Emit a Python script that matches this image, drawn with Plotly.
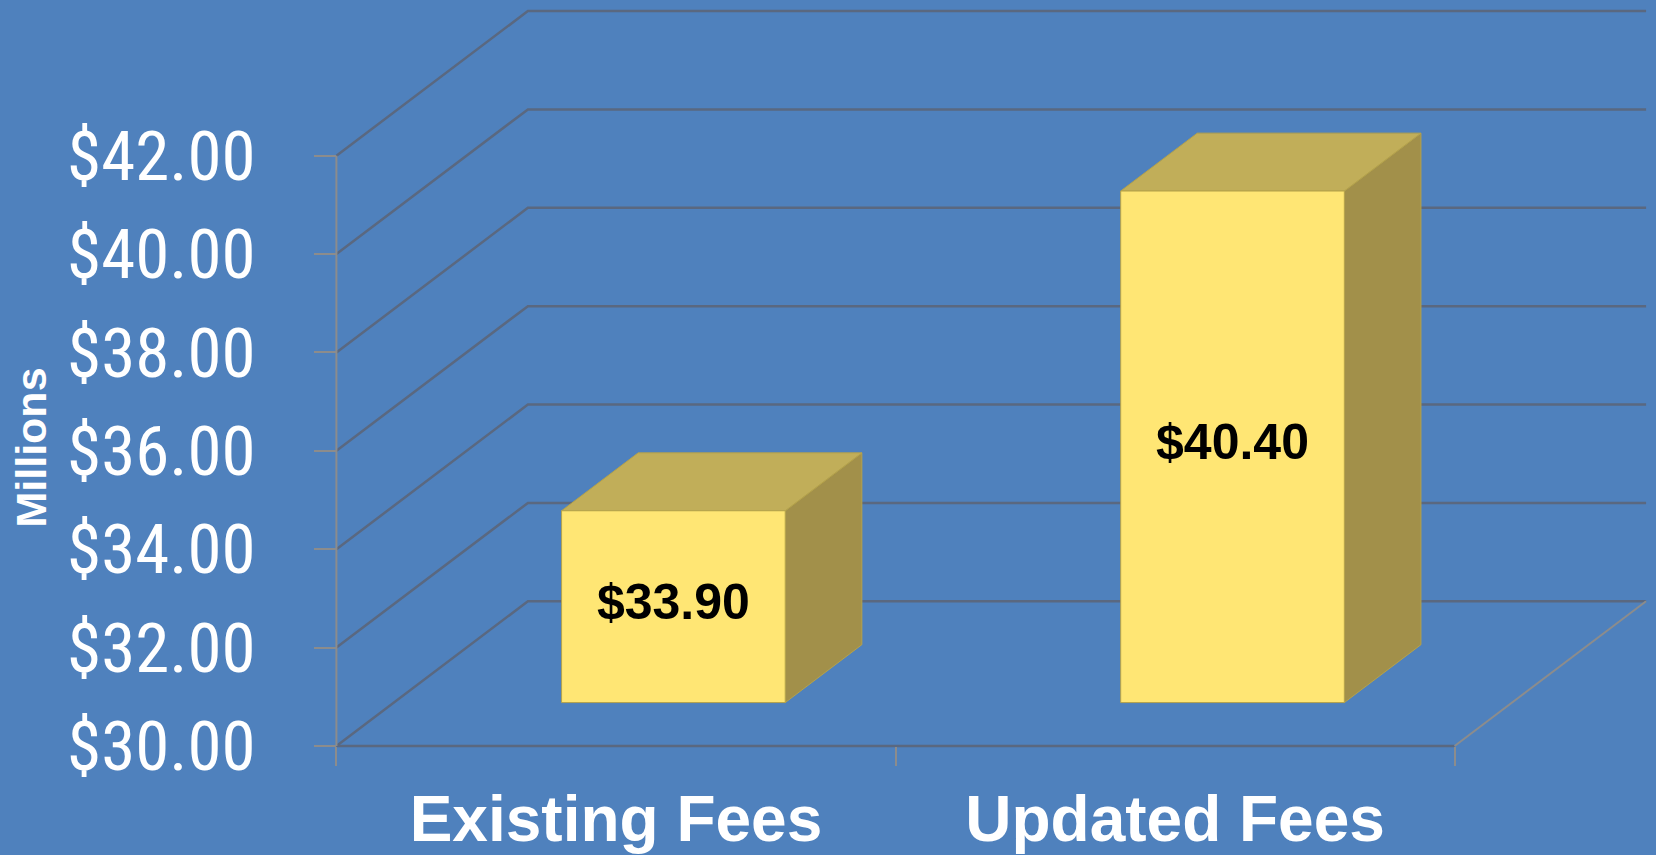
import plotly.graph_objects as go

# ---------------- data ----------------
categories = ["Existing Fees", "Updated Fees"]
values = [33.90, 40.40]          # $ millions
y_ticks = [30, 32, 34, 36, 38, 40, 42]
y_ticktext = ["$30.00", "$32.00", "$34.00", "$36.00", "$38.00", "$40.00", "$42.00"]
y_title = "Millions"

# ---------------- 3-D look (styling constants) ----------------
BASE = 30.0          # floor value
DEPTH_X = 0.3425     # horizontal offset of back wall (x units)
DEPTH_Y = 2.942      # vertical offset of back wall (y units)
BAR_HALF = 0.2       # half bar width (category units)
F_FRONT, F_BACK = 0.30, 0.70   # bar depth placement (fraction of full depth)

BG = "#4F81BD"
GRID = "#5a6880"
AXIS = "#8c8c8c"
FRONT = "#FFE674"
TOP = "#C1AE59"
SIDE = "#A2904A"
EDGE = "#B5A24A"

x_left, x_right = -0.5, len(categories) - 0.5

fig = go.Figure()

# back-wall gridlines with their left-wall diagonals
gx, gy = [], []
for v in y_ticks:
    gx += [x_left, x_left + DEPTH_X, x_right + DEPTH_X, None]
    gy += [v, v + DEPTH_Y, v + DEPTH_Y, None]
fig.add_trace(go.Scatter(x=gx, y=gy, mode="lines",
                         line=dict(color=GRID, width=2.5), hoverinfo="skip", showlegend=False))

# floor front edge + right floor edge
fig.add_trace(go.Scatter(x=[x_left, x_right], y=[BASE, BASE], mode="lines",
                         line=dict(color=GRID, width=2.5), hoverinfo="skip", showlegend=False))
fig.add_trace(go.Scatter(x=[x_right, x_right + DEPTH_X], y=[BASE, BASE + DEPTH_Y], mode="lines",
                         line=dict(color=AXIS, width=2), hoverinfo="skip", showlegend=False))
# value axis line
fig.add_trace(go.Scatter(x=[x_left, x_left], y=[BASE, y_ticks[-1]], mode="lines",
                         line=dict(color=AXIS, width=2), hoverinfo="skip", showlegend=False))

# bars
fdx, fdy = F_FRONT * DEPTH_X, F_FRONT * DEPTH_Y
bdx, bdy = (F_BACK - F_FRONT) * DEPTH_X, (F_BACK - F_FRONT) * DEPTH_Y
for i, v in enumerate(values):
    x0, x1 = i - BAR_HALF + fdx, i + BAR_HALF + fdx
    y0, y1 = BASE + fdy, v + fdy
    # side face
    fig.add_trace(go.Scatter(x=[x1, x1 + bdx, x1 + bdx, x1, x1],
                             y=[y0, y0 + bdy, y1 + bdy, y1, y0],
                             fill="toself", fillcolor=SIDE, mode="lines",
                             line=dict(color=EDGE, width=1), hoverinfo="skip", showlegend=False))
    # top face
    fig.add_trace(go.Scatter(x=[x0, x1, x1 + bdx, x0 + bdx, x0],
                             y=[y1, y1, y1 + bdy, y1 + bdy, y1],
                             fill="toself", fillcolor=TOP, mode="lines",
                             line=dict(color=EDGE, width=1), hoverinfo="skip", showlegend=False))
    # front face
    fig.add_trace(go.Scatter(x=[x0, x1, x1, x0, x0],
                             y=[y0, y0, y1, y1, y0],
                             fill="toself", fillcolor=FRONT, mode="lines",
                             line=dict(color=EDGE, width=1),
                             name=categories[i], hovertemplate=f"{categories[i]}: ${v:.2f}M<extra></extra>",
                             showlegend=False))

# data labels
fig.add_trace(go.Scatter(
    x=[i + fdx for i in range(len(values))],
    y=[(BASE + v) / 2 + fdy for v in values],
    mode="text", text=[f"${v:.2f}" for v in values],
    textposition="middle center",
    textfont=dict(family="Liberation Sans, Arial, sans-serif", size=50, color="black", weight="bold"),
    hoverinfo="skip", showlegend=False, cliponaxis=False))

fig.update_layout(
    width=1656, height=855,
    margin=dict(l=0, r=0, t=0, b=0),
    paper_bgcolor=BG, plot_bgcolor=BG,
    showlegend=False,
    xaxis=dict(
        range=[-1.1017, 1.8602], domain=[0, 1],
        tickmode="array", tickvals=list(range(len(categories))), ticktext=categories,
        ticks="", showgrid=False, zeroline=False, showline=False,
        anchor="free", position=(855 - 746) / 855,
        tickfont=dict(family="Liberation Sans, Arial, sans-serif", size=64, color="white", weight="bold"),
        ticklabelstandoff=30,
        minor=dict(tick0=-0.5, dtick=1, ticks="outside", ticklen=19,
                   tickcolor=AXIS, tickwidth=2, showgrid=False),
        fixedrange=True,
    ),
    yaxis=dict(
        range=[27.784, 45.166], domain=[0, 1],
        tickmode="array", tickvals=y_ticks, ticktext=y_ticktext,
        ticks="outside", ticklen=22, tickcolor=AXIS, tickwidth=2,
        showgrid=False, zeroline=False, showline=False,
        anchor="free", position=336.4 / 1656,
        tickfont=dict(family="Liberation Sans Narrow, Arial Narrow, Roboto Condensed, DejaVu Sans Condensed, sans-serif",
                      size=69, color="white"),
        ticklabelstandoff=45,
        fixedrange=True,
    ),
    annotations=[dict(
        text=y_title, textangle=-90, xref="paper", yref="paper",
        x=30.5 / 1656, y=1 - 448 / 855, xanchor="center", yanchor="middle", showarrow=False,
        font=dict(family="Liberation Sans, Arial, sans-serif", size=43, color="white", weight="bold"),
    )],
)

fig.write_html("out.html", config={"displayModeBar": False},
               post_script="document.body.style.margin='0px';document.body.style.overflow='hidden';")
